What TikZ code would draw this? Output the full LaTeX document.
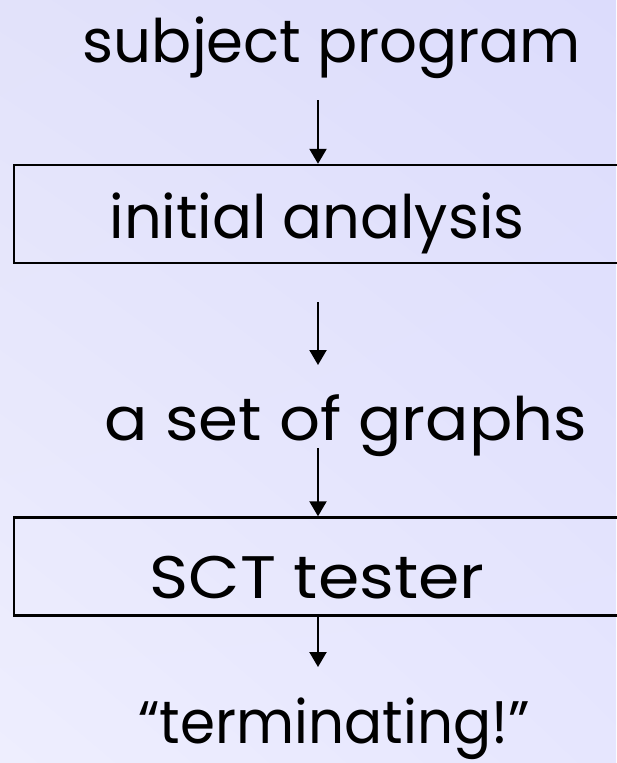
\documentclass[tikz,border=0pt]{standalone}
\usepackage{graphicx}
\usepackage{fontspec}
\setmainfont{Poppins}
\usetikzlibrary{arrows.meta,shadings}
\definecolor{bgTL}{RGB}{226,226,250}
\definecolor{bgTR}{RGB}{220,220,252}
\definecolor{bgBL}{RGB}{238,238,254}
\definecolor{bgBR}{RGB}{230,230,254}
\begin{document}
\begin{tikzpicture}[x=1pt,y=-1pt,
  caption/.style={inner sep=0pt, anchor=base, font=\fontsize{60}{68}\selectfont},
  stage/.style={draw=black, line width=2.4pt, minimum width=608pt, minimum height=98pt, inner sep=0pt},
  flow/.style={line width=2.2pt, -{Triangle[length=15pt,width=17pt]}}]
\useasboundingbox (0,0) rectangle (616,763);
% background wash
\shade[upper left=bgTL, upper right=bgTR, lower left=bgBL, lower right=bgBR] (0,0) rectangle (616,763);

% stages
\node[stage] (init) at (318,214) {};
\node[stage] (sct)  at (318,566.5) {};

% texts
\node[caption] (subj)   at (332,62)  {\scalebox{0.99}[1]{subject program}};
\node[caption] (initT)  at (317,238) {\scalebox{0.985}[1]{initial analysis}};
\node[caption] (graphs) at (346,440) {\scalebox{1.07}[1]{a set of graphs}};
\node[caption] (sctT)   at (317,598) {\scalebox{1.11}[1]{SCT tester}};
\node[caption] (term)   at (334,743) {\scalebox{0.94}[1]{“terminating!”}};

% flow arrows
\draw[flow, shorten <=38pt] (subj.base -| init.north) -- (init.north);
\draw[flow, shorten <=38pt, shorten >=75pt] (init.south) -- (graphs.base -| init.south);
\draw[flow, shorten <=8pt] (graphs.base -| sct.north) -- (sct.north);
\draw[flow, shorten >=76pt] (sct.south) -- (term.base -| sct.south);
\end{tikzpicture}
\end{document}
